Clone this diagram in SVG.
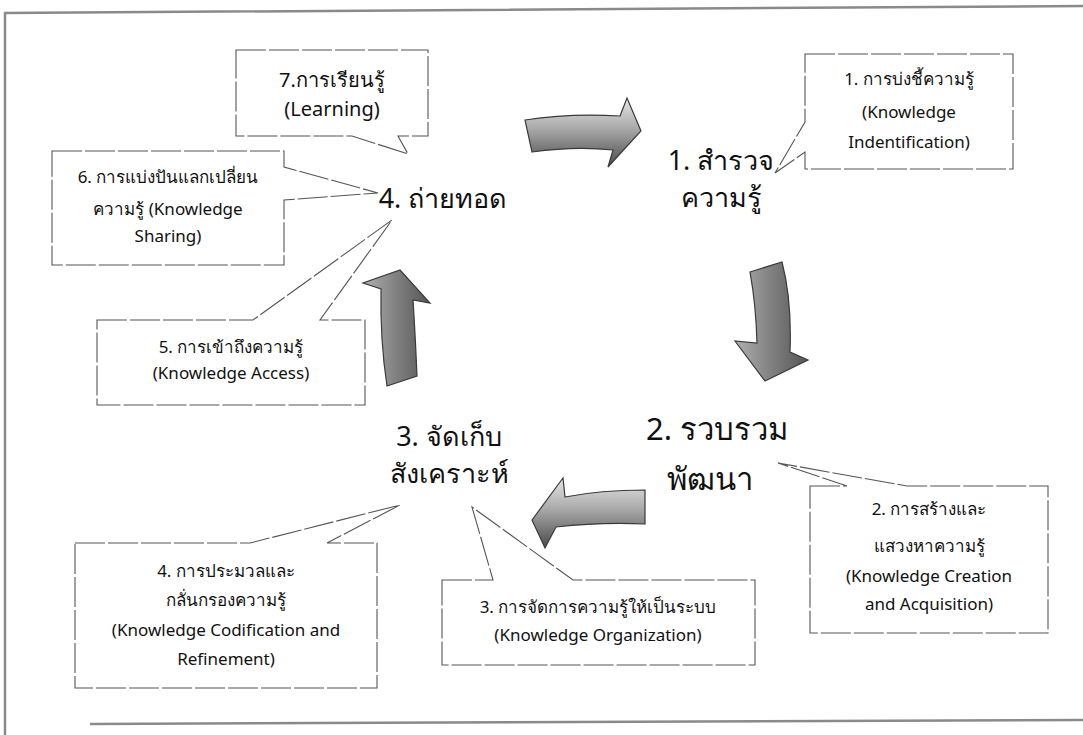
<svg xmlns="http://www.w3.org/2000/svg" width="1083" height="735" viewBox="0 0 1083 735">
<defs>
<style>
.frame{fill:none;stroke:#8a8a8a;stroke-width:2.5}
.call{fill:#fff;stroke:#555;stroke-width:1.1;stroke-dasharray:30 3}
.t{font-family:"Noto Sans","DejaVu Sans",sans-serif;fill:#111;text-anchor:middle}
.s{font-size:17px}
.m{font-size:27px}
.b{font-size:31px}
.arr{fill:url(#g);stroke:#3a3a3a;stroke-width:1.2}
</style>
<linearGradient id="g" x1="0" y1="0" x2="0" y2="1">
<stop offset="0" stop-color="#e6e6e6"/>
<stop offset="0.45" stop-color="#a8a8a8"/>
<stop offset="1" stop-color="#4a4a4a"/>
</linearGradient>
<linearGradient id="gv" x1="0" y1="0" x2="1" y2="0">
<stop offset="0" stop-color="#b0b0b0"/>
<stop offset="0.5" stop-color="#808080"/>
<stop offset="1" stop-color="#555"/>
</linearGradient>
</defs>
<rect width="1083" height="735" fill="#fff"/>
<g id="frame">
<path class="frame" d="M5,735 V13 L1083,6"/>
<path class="frame" d="M90,724 L1083,720"/>
</g>
<g id="connectors">
<path id="arrow-right" class="arr" d="M525,120 Q570,113 620,116 L627,98 L641,131 L608,167 L613,150 Q575,146 532,152 Z"/>
<path id="arrow-down" class="arr" style="fill:url(#gv)" d="M750,272 L782,262 Q792,300 790,352 L808,360 L765,381 L735,341 L757,343 Q756,305 750,272 Z"/>
<path id="arrow-left" class="arr" d="M645,490 Q600,490 565,497 L563,478 L532,520 L545,548 L556,527 Q600,522 645,524 Z"/>
<path id="arrow-up" class="arr" style="fill:url(#gv)" d="M387,386 L417,376 Q415,330 413,300 L430,303 L400,270 L363,283 L381,289 Q380,340 387,386 Z"/>
</g>
<g id="node-transfer">
<text class="t m" x="443" y="208">4. ถ่ายทอด</text>
</g>
<g id="node-explore">
<text class="t m" x="721" y="170">1. สำรวจ</text>
<text class="t m" x="721" y="207">ความรู้</text>
</g>
<g id="node-collect">
<text class="t b" x="717" y="440">2. รวบรวม</text>
<text class="t b" x="710" y="490">พัฒนา</text>
</g>
<g id="node-store">
<text class="t m" x="449" y="446">3. จัดเก็บ</text>
<text class="t m" x="449" y="483">สังเคราะห์</text>
</g>
<g id="callout-7">
<path class="call" d="M236,50 H428 V136 H398 L408,154 L352,136 H236 Z"/>
<text class="t" style="font-size:20px" x="332" y="87">7.การเรียนรู้</text>
<text class="t" style="font-size:20px" x="332" y="116">(Learning)</text>
</g>
<g id="callout-1">
<path class="call" d="M805,54 H1013 V169 H805 V152 L775,173 L805,122 Z"/>
<text class="t s" x="909" y="85">1. การบ่งชี้ความรู้</text>
<text class="t s" x="909" y="118">(Knowledge</text>
<text class="t s" x="909" y="148">Indentification)</text>
</g>
<g id="callout-6">
<path class="call" d="M52,151 H284 V167 L378,193 L284,200 V265 H52 Z"/>
<text class="t s" x="168" y="183">6. การแบ่งปันแลกเปลี่ยน</text>
<text class="t s" x="168" y="215">ความรู้ (Knowledge</text>
<text class="t s" x="168" y="242">Sharing)</text>
</g>
<g id="callout-5">
<path class="call" d="M97,320 H253 L392,220 L320,320 H365 V405 H97 Z"/>
<text class="t s" x="231" y="353">5. การเข้าถึงความรู้</text>
<text class="t s" x="231" y="379">(Knowledge Access)</text>
</g>
<g id="callout-2">
<path class="call" d="M810,486 H847 L778,463 L907,486 H1048 V633 H810 Z"/>
<text class="t s" x="929" y="515">2. การสร้างและ</text>
<text class="t s" x="929" y="552">แสวงหาความรู้</text>
<text class="t s" x="929" y="582">(Knowledge Creation</text>
<text class="t s" x="929" y="610">and Acquisition)</text>
</g>
<g id="callout-3">
<path class="call" d="M442,580 H493 L472,507 L573,580 H755 V665 H442 Z"/>
<text class="t s" x="598" y="613">3. การจัดการความรู้ให้เป็นระบบ</text>
<text class="t s" x="598" y="641">(Knowledge Organization)</text>
</g>
<g id="callout-4">
<path class="call" d="M75,543 H250 L400,505 L327,543 H377 V688 H75 Z"/>
<text class="t s" x="226" y="577">4. การประมวลและ</text>
<text class="t s" x="226" y="606">กลั่นกรองความรู้</text>
<text class="t s" x="226" y="636">(Knowledge Codification and</text>
<text class="t s" x="226" y="665">Refinement)</text>
</g>
</svg>
